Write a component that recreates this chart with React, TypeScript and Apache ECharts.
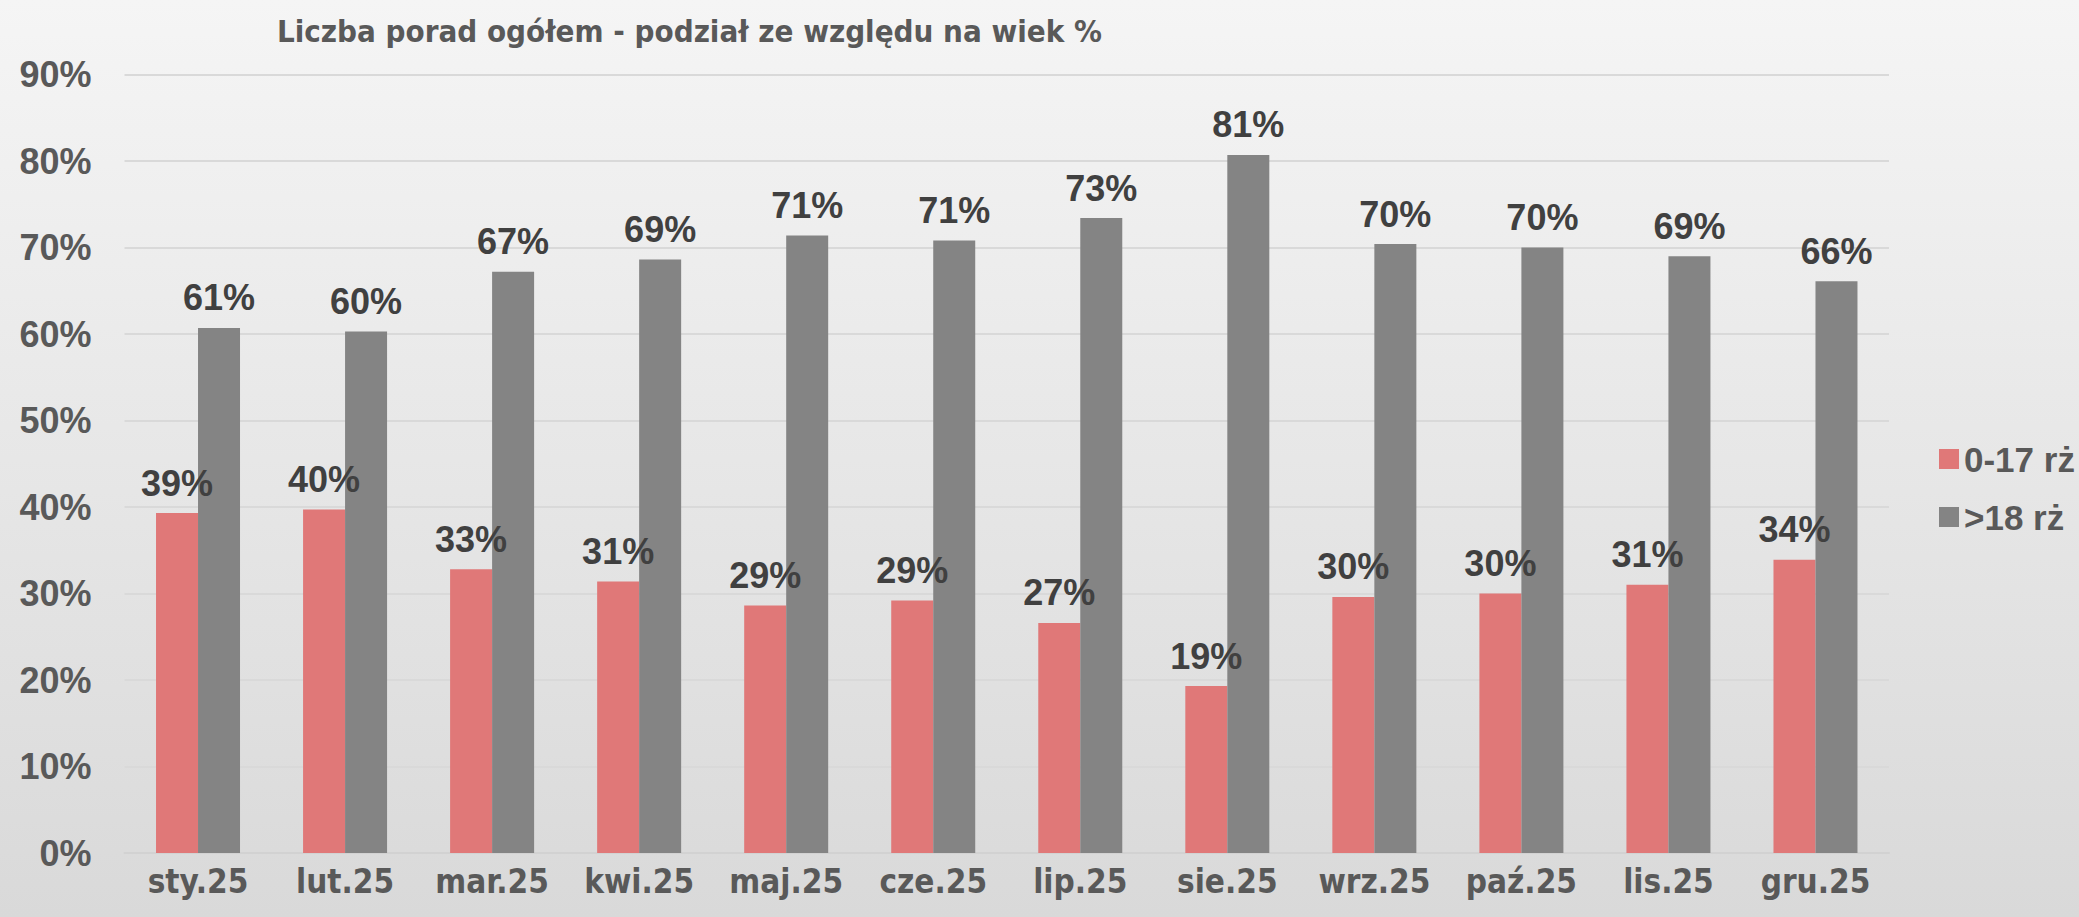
import React, { useEffect, useRef } from "react";
import * as echarts from "echarts";

const categories = ["sty.25", "lut.25", "mar.25", "kwi.25", "maj.25", "cze.25", "lip.25", "sie.25", "wrz.25", "paź.25", "lis.25", "gru.25"];
const youngValues = [39.3, 39.7, 32.8, 31.4, 28.6, 29.2, 26.6, 19.3, 29.6, 30.0, 31.0, 33.9];
const adultValues = [60.7, 60.3, 67.2, 68.6, 71.4, 70.8, 73.4, 80.7, 70.4, 70.0, 69.0, 66.1];
const seriesNames = ["0-17 rż", ">18 rż"];
const titleText = "Liczba porad ogółem - podział ze względu na wiek %";

const WIDE = "'Liberation Sans', Arial, sans-serif";
const COND = "'DejaVu Sans Condensed', 'Liberation Sans Narrow', sans-serif";

export default function App() {
  const ref = useRef<HTMLDivElement>(null);
  useEffect(() => {
    if (!ref.current) return;
    const chart = echarts.init(ref.current, undefined, { renderer: "svg" });
    const labelCfg = {
      show: true,
      position: "top",
      distance: 12,
      formatter: (p: any) => Math.round(p.value) + "%",
      fontFamily: WIDE,
      fontWeight: "bold",
      fontSize: 36,
      color: "#404040",
    };
    chart.setOption({
      animation: false,
      backgroundColor: "transparent",
      title: {
        text: titleText,
        left: 272,
        top: 10,
        textStyle: { fontFamily: COND, fontWeight: "bold", fontSize: 31, color: "#595959" },
      },
      legend: {
        orient: "vertical",
        left: 1934,
        top: 435,
        itemWidth: 20,
        itemHeight: 20,
        itemGap: 20,
        icon: "rect",
        textStyle: { fontFamily: WIDE, fontWeight: "bold", fontSize: 35, color: "#595959", lineHeight: 38 },
        data: seriesNames,
      },
      grid: { left: 124.5, right: 190, top: 74.5, bottom: 64, containLabel: false },
      xAxis: {
        type: "category",
        data: categories,
        axisLine: { show: true, lineStyle: { color: "#d2d2d2", width: 2 } },
        axisTick: { show: false },
        axisLabel: { interval: 0, fontFamily: COND, fontWeight: "bold", fontSize: 33, color: "#595959", margin: 12 },
      },
      yAxis: {
        type: "value",
        min: 0,
        max: 90,
        interval: 10,
        axisLine: { show: false },
        axisTick: { show: false },
        splitLine: { lineStyle: { color: "#d9d9d9", width: 2 } },
        axisLabel: {
          formatter: "{value}%",
          fontFamily: WIDE,
          fontWeight: "bold",
          fontSize: 36,
          color: "#595959",
          margin: 33,
        },
      },
      series: [
        {
          name: seriesNames[0],
          type: "bar",
          data: youngValues,
          barWidth: 42,
          barGap: "0%",
          itemStyle: { color: "#e07878" },
          label: labelCfg,
        },
        {
          name: seriesNames[1],
          type: "bar",
          data: adultValues,
          barWidth: 42,
          barGap: "0%",
          itemStyle: { color: "#848484" },
          label: labelCfg,
        },
      ],
    });
    return () => chart.dispose();
  }, []);
  return (
    <div
      style={{
        position: "fixed",
        left: 0,
        top: 0,
        width: 2079,
        height: 917,
        background: "linear-gradient(to bottom, #f5f5f5 0%, #d9d9d9 100%)",
      }}
    >
      <div ref={ref} style={{ width: 2079, height: 917 }} />
    </div>
  );
}
